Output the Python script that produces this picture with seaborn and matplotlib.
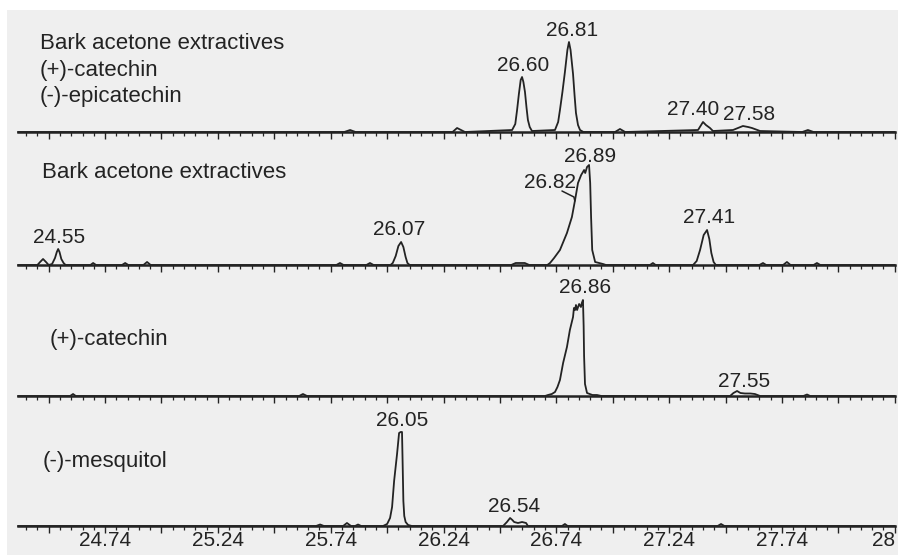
import matplotlib
matplotlib.use("Agg")
import matplotlib.pyplot as plt
from matplotlib.ticker import FixedLocator, MultipleLocator
from matplotlib.patches import Rectangle
import seaborn as sns
import pandas as pd

# ---------------- data (retention time [min], detector signal) ----------------
trace1 = [(24.354, 0), (25.80, 0), (25.826, 2), (25.85, 0), (26.28, 0), (26.30, 4), (26.335, 0),
          (26.544, 2), (26.558, 8), (26.566, 22), (26.574, 38), (26.582, 52), (26.588, 55),
          (26.594, 50), (26.601, 40), (26.608, 24), (26.614, 12), (26.622, 5), (26.632, 1),
          (26.734, 2), (26.748, 10), (26.756, 22), (26.767, 40), (26.778, 60), (26.789, 82),
          (26.796, 90), (26.803, 82), (26.814, 58), (26.821, 36), (26.827, 19), (26.836, 7),
          (26.845, 2), (26.86, 0), (27.00, 0), (27.022, 3), (27.045, 0),
          (27.368, 2), (27.390, 10), (27.403, 7), (27.421, 4), (27.434, 1),
          (27.523, 2), (27.545, 4), (27.567, 6), (27.590, 5), (27.607, 4), (27.643, 1),
          (27.83, 0), (27.855, 2), (27.88, 0), (28.241, 0)]

trace2 = [(24.354, 0), (24.44, 0), (24.452, 3), (24.465, 6), (24.478, 3), (24.49, 0),
          (24.505, 1), (24.518, 7), (24.526, 13), (24.532, 16), (24.538, 13), (24.546, 6),
          (24.556, 2), (24.565, 0), (24.675, 0), (24.687, 2), (24.70, 0), (24.815, 0),
          (24.829, 2), (24.843, 0), (24.91, 0), (24.926, 3), (24.942, 0),
          (25.765, 0), (25.781, 2), (25.797, 0), (25.898, 0), (25.914, 2), (25.93, 0),
          (26.005, 0), (26.015, 2), (26.028, 9), (26.040, 19), (26.052, 23), (26.062, 18),
          (26.072, 8), (26.080, 2), (26.09, 0), (26.54, 0), (26.56, 2), (26.60, 2), (26.62, 0),
          (26.700, 0), (26.712, 2), (26.730, 7), (26.756, 15), (26.787, 32), (26.809, 48),
          (26.823, 65), (26.836, 82), (26.850, 90), (26.858, 93), (26.863, 95), (26.868, 92),
          (26.876, 98), (26.885, 100), (26.890, 82), (26.894, 48), (26.899, 15), (26.912, 3),
          (26.947, 1), (26.96, 0), (27.155, 0), (27.168, 2), (27.18, 0),
          (27.346, 0), (27.362, 4), (27.377, 15), (27.393, 30), (27.408, 35), (27.418, 26),
          (27.427, 12), (27.437, 3), (27.447, 0), (27.64, 0), (27.656, 2), (27.67, 0),
          (27.745, 0), (27.762, 3), (27.778, 0), (27.88, 0), (27.895, 2), (27.91, 0), (28.241, 0)]

trace3 = [(24.354, 0), (24.585, 0), (24.598, 2), (24.61, 0), (25.60, 0), (25.617, 2), (25.635, 0),
          (26.690, 0), (26.703, 1), (26.720, 2), (26.734, 4), (26.745, 9), (26.756, 16),
          (26.770, 33), (26.787, 49), (26.800, 66), (26.814, 79), (26.818, 88), (26.823, 86),
          (26.827, 91), (26.832, 86), (26.841, 92), (26.849, 89), (26.853, 93), (26.858, 96),
          (26.861, 70), (26.863, 40), (26.867, 12), (26.876, 3), (26.90, 1), (26.92, 1), (26.94, 0),
          (27.51, 0), (27.525, 3), (27.541, 5), (27.556, 3), (27.576, 2.5), (27.600, 2.5),
          (27.620, 2), (27.643, 0), (27.835, 0), (27.851, 1.5), (27.865, 0), (28.241, 0)]

trace4 = [(24.354, 0), (25.675, 0), (25.693, 1.5), (25.71, 0), (25.795, 0), (25.812, 3), (25.83, 0),
          (25.848, 0), (25.861, 1.5), (25.875, 0), (25.972, 0), (25.990, 2), (26.003, 8),
          (26.012, 19), (26.021, 45), (26.034, 72), (26.043, 93), (26.050, 94), (26.056, 94),
          (26.059, 60), (26.062, 25), (26.066, 10), (26.072, 4), (26.083, 1), (26.10, 0),
          (26.504, 0), (26.521, 4), (26.535, 8), (26.545, 6), (26.553, 4), (26.570, 3),
          (26.588, 4), (26.606, 3), (26.614, 0), (26.765, 0), (26.778, 2), (26.79, 0),
          (27.455, 0), (27.470, 2), (27.485, 0), (28.241, 0)]

peak_labels1 = [("26.60", 26.592, 61), ("26.81", 26.809, 96), ("27.40", 27.346, 17), ("27.58", 27.594, 12)]
peak_labels2 = [("24.55", 24.536, 22), ("26.07", 26.043, 30), ("26.82", 26.712, 77),
                ("26.89", 26.889, 103), ("27.41", 27.417, 42)]
peak_labels3 = [("26.86", 26.867, 103), ("27.55", 27.572, 9)]
peak_labels4 = [("26.05", 26.056, 100), ("26.54", 26.552, 14)]

sample_labels1 = [("Bark acetone extractives", 24.452, 83), ("(+)-catechin", 24.452, 56),
                  ("(-)-epicatechin", 24.452, 30)]
sample_labels2 = [("Bark acetone extractives", 24.461, 87)]
sample_labels3 = [("(+)-catechin", 24.496, 51)]
sample_labels4 = [("(-)-mesquitol", 24.461, 59)]

leader2 = [(26.765, 74), (26.818, 68), (26.822, 64)]

major_ticks = [24.49, 24.74, 24.99, 25.24, 25.49, 25.74, 25.99, 26.24, 26.49, 26.74,
               26.99, 27.24, 27.49, 27.74, 27.99, 28.24]
tick_labels = ["", "24.74", "", "25.24", "", "25.74", "", "26.24", "", "26.74",
               "", "27.24", "", "27.74", "", "28"]
x_range = (24.354, 28.241)

# ---------------- styling ----------------
sns.set_theme(style="white")
plt.rcParams["font.family"] = ["Liberation Sans", "DejaVu Sans"]

W, H = 898, 555
fig = plt.figure(figsize=(W / 100, H / 100), dpi=100)
fig.patch.set_facecolor("white")
fig.patches.append(Rectangle((7 / W, 0), 1, 1 - 10 / H, transform=fig.transFigure,
                             facecolor="#efefef", edgecolor="none", zorder=-10))

ink = "#232323"
panels = [
    (trace1, peak_labels1, sample_labels1, 10, 132),
    (trace2, peak_labels2, sample_labels2, 132, 265),
    (trace3, peak_labels3, sample_labels3, 265, 396),
    (trace4, peak_labels4, sample_labels4, 396, 526),
]

left_px, right_px = 18, 895
for idx, (trace, plabels, slabels, ytop, ybase) in enumerate(panels):
    ax = fig.add_axes([left_px / W, 1 - ybase / H, (right_px - left_px) / W, (ybase - ytop) / H])
    ax.set_facecolor("none")
    df = pd.DataFrame(trace, columns=["time", "signal"])
    sns.lineplot(data=df, x="time", y="signal", ax=ax, color=ink, linewidth=1.3,
                 estimator=None, sort=False, clip_on=False)
    ax.set_xlim(*x_range)
    ax.set_ylim(0, ybase - ytop)
    ax.set_xlabel("")
    ax.set_ylabel("")
    ax.set_yticks([])
    for s in ["top", "left", "right"]:
        ax.spines[s].set_visible(False)
    ax.spines["bottom"].set_color(ink)
    ax.spines["bottom"].set_linewidth(1.8)
    ax.xaxis.set_major_locator(FixedLocator(major_ticks))
    ax.xaxis.set_minor_locator(MultipleLocator(0.05, offset=0.04))
    ax.tick_params(axis="x", which="major", direction="out", length=5, width=1.0,
                   color=ink, bottom=True, labelsize=15, labelcolor=ink, pad=-1.5)
    ax.tick_params(axis="x", which="minor", direction="out", length=3, width=0.9,
                   color=ink, bottom=True)
    if idx == 3:
        ax.set_xticklabels(tick_labels)
        ax.get_xticklabels()[-1].set_horizontalalignment("right")
    else:
        ax.set_xticklabels([""] * len(major_ticks))

    for text, x, y in plabels:
        ax.text(x, y, text, ha="center", va="baseline", fontsize=15, color=ink)
    for text, x, y in slabels:
        ax.text(x, y, text, ha="left", va="baseline", fontsize=16, color=ink)
    if idx == 1:
        lx, ly = zip(*leader2)
        ax.plot(lx, ly, color=ink, linewidth=1.1)

fig.savefig("out.png", dpi=100, facecolor=fig.get_facecolor())
